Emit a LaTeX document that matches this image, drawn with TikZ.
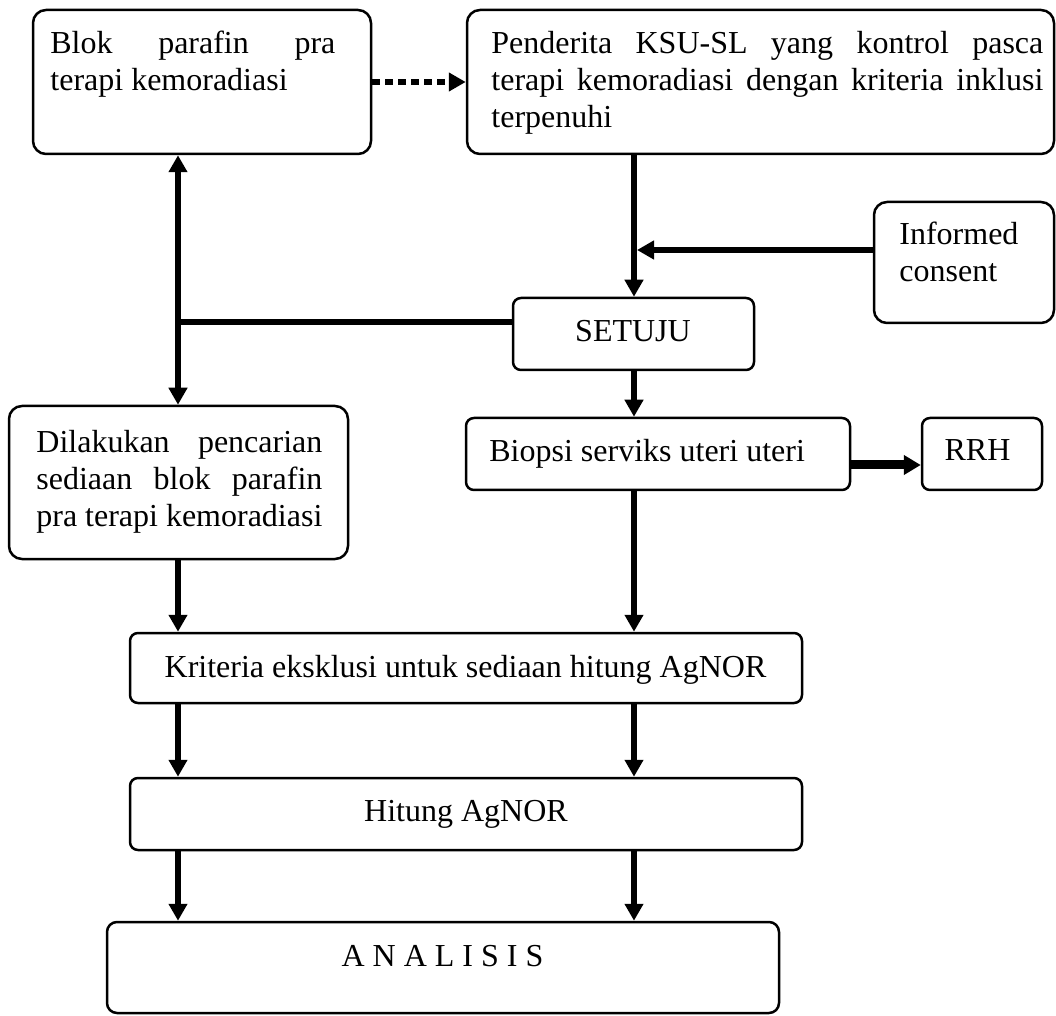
\documentclass[tikz,border=0pt]{standalone}
\usepackage{fontspec}
\setmainfont{Liberation Serif}
\usetikzlibrary{arrows.meta,fit}
\newcommand{\flowfont}{\fontsize{16pt}{18.5pt}\selectfont}
\begin{document}
\begin{tikzpicture}[x=0.5pt,y=-0.5pt,
  >={Triangle[length=8.5pt,width=9pt]},
  box/.style={draw, line width=1.25pt, rounded corners=6.5pt, inner sep=0pt},
  smallbox/.style={box, rounded corners=4pt},
  txt/.style={inner sep=0pt, font=\flowfont},
  flow/.style={line width=3pt, ->},
  link/.style={line width=3pt},
  dotflow/.style={line width=3pt, dash pattern=on 4pt off 2.5pt, ->},
  heavyflow/.style={line width=4.5pt, -{Triangle[length=8.5pt,width=9.5pt]}}]
\useasboundingbox (0,0) rectangle (1056,1016);

% boxes
\node[box, fit={(33,10) (371,154)}] (blok) {};
\node[box, fit={(467,10) (1054,154)}] (pend) {};
\node[box, fit={(874,202) (1054,323)}] (inf) {};
\node[smallbox, fit={(513,298) (754,370)}] (setuju) {};
\node[smallbox, fit={(466,418) (850,490)}] (biopsi) {};
\node[smallbox, fit={(922,418) (1042,490)}] (rrh) {};
\node[box, fit={(9,406) (348,559)}] (dil) {};
\node[smallbox, fit={(130,633) (802,703)}] (krit) {};
\node[smallbox, fit={(130,778) (802,850)}] (hitung) {};
\node[box, rounded corners=5pt, fit={(107,922) (779,1013)}] (anal) {};

% texts
\node[txt, anchor=base west] (blokT) at (50,54)
  {\parbox[t]{142.5pt}{\makebox[142.5pt][s]{Blok parafin pra}\\terapi kemoradiasi}};
\node[txt, anchor=base west] (pendT) at (491,54)
  {\parbox[t]{276pt}{\makebox[276pt][s]{Penderita KSU-SL yang kontrol pasca}\\\makebox[276pt][s]{terapi kemoradiasi dengan kriteria inklusi}\\terpenuhi}};
\node[txt, anchor=base west] (infT) at (899,245)
  {\parbox[t]{80pt}{Informed\\consent}};
\node[txt, anchor=base] (setujuT) at (633,342) {SETUJU};
\node[txt, anchor=base west] (biopsiT) at (489,461) {Biopsi serviks uteri uteri};
\node[txt, anchor=base] (rrhT) at (977.5,460) {RRH};
\node[txt, anchor=base west] (dilT) at (36,452)
  {\parbox[t]{143pt}{\makebox[143pt][s]{Dilakukan pencarian}\\\makebox[143pt][s]{sediaan blok parafin}\\pra terapi kemoradiasi}};
\node[txt, anchor=base] (kritT) at (465.5,677) {Kriteria eksklusi untuk sediaan hitung AgNOR};
\node[txt, anchor=base] (hitungT) at (466,821) {Hitung AgNOR};
\node[txt, anchor=base] (analT) at (442.5,966) {A N A L I S I S};

% reference lines for the two columns of connectors
\coordinate (lx) at (178,0);
\coordinate (rx) at (634,0);
\coordinate (dotY) at (0,82);
\coordinate (joinY) at (0,322);
\coordinate (infY) at (0,250);
\coordinate (rrhY) at (0,465);
\coordinate (infTip) at (637,250);

% connectors
\draw[dotflow] (blok.east |- dotY) -- (pend.west |- dotY);
\draw[link, <->] (blok.south -| lx) -- (dil.north -| lx);
\draw[link] (setuju.west |- joinY) -- (lx |- joinY);
\draw[flow] (pend.south -| rx) -- (setuju.north -| rx);
\draw[flow] (inf.west |- infY) -- (infTip);
\draw[flow] (setuju.south -| rx) -- (biopsi.north -| rx);
\draw[heavyflow] (biopsi.east |- rrhY) -- (rrh.west |- rrhY);
\draw[flow] (dil.south -| lx) -- (krit.north -| lx);
\draw[flow] (biopsi.south -| rx) -- (krit.north -| rx);
\draw[flow] (krit.south -| lx) -- (hitung.north -| lx);
\draw[flow] (krit.south -| rx) -- (hitung.north -| rx);
\draw[flow] (hitung.south -| lx) -- (anal.north -| lx);
\draw[flow] (hitung.south -| rx) -- (anal.north -| rx);
\end{tikzpicture}
\end{document}
